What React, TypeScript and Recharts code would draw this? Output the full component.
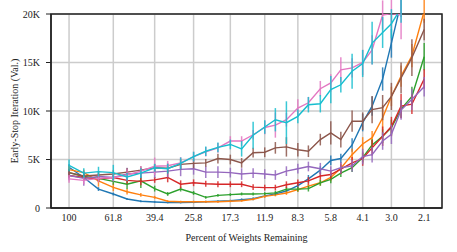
import { CartesianGrid, ErrorBar, Label, Line, LineChart, ReferenceArea, XAxis, YAxis } from "recharts";

// percent of weights remaining at each pruning round
const PERCENT = [
  100, 85.2, 72.6, 61.8, 53.2, 45.8, 39.4, 34.2, 29.7, 25.8, 22.6, 19.8, 17.3, 15.3, 13.5, 11.9,
  10.6, 9.4, 8.3, 7.4, 6.5, 5.8, 5.2, 4.6, 4.1, 3.7, 3.3, 3.0, 2.7, 2.4, 2.1,
];
const X_TICKS = [100, 61.8, 39.4, 25.8, 17.3, 11.9, 8.3, 5.8, 4.1, 3.0, 2.1];
const X_LABELS = ["100", "61.8", "39.4", "25.8", "17.3", "11.9", "8.3", "5.8", "4.1", "3.0", "2.1"];
const X_DOMAIN = [1.73, 121.7];
const Y_TICKS = [0, 5000, 10000, 15000, 20000];
const Y_LABELS = ["0", "5K", "10K", "15K", "20K"];

const BLUE = [4200, 3150, 1950, 1440, 930, 700, 620, 560, 550, 600, 650, 700, 750, 850, 950, 1250, 1450, 1750, 2300, 3000, 3900, 4900, 5100, 6500, 8800, 10500, 13300, 17000, 21200, 25000, 28000];
const BLUE_ERR = [300, 250, 200, 150, 100, 100, 80, 80, 80, 100, 100, 100, 100, 150, 150, 150, 200, 200, 300, 400, 400, 500, 500, 700, 900, 1000, 1200, 1500, 1500, 1500, 1500];
const ORANGE = [3950, 3650, 2800, 2130, 1680, 1350, 1100, 700, 650, 650, 650, 650, 700, 750, 900, 1200, 1350, 1550, 1900, 2250, 2600, 3150, 4100, 5500, 6600, 7250, 9300, 11500, 13600, 15700, 20300];
const ORANGE_ERR = [400, 300, 600, 400, 300, 200, 150, 100, 100, 100, 100, 100, 100, 100, 100, 150, 150, 200, 250, 250, 300, 400, 500, 600, 700, 700, 1300, 1000, 1100, 1200, 1200];
const GREEN = [3650, 3250, 3050, 2750, 2450, 2800, 2000, 1450, 1950, 1550, 1100, 1300, 1380, 1450, 1450, 1480, 1560, 1950, 1950, 2000, 2600, 2950, 3600, 4150, 5200, 6500, 7400, 8300, 10200, 11500, 15600];
const GREEN_ERR = [300, 300, 300, 350, 500, 750, 300, 200, 250, 200, 150, 150, 150, 150, 150, 150, 200, 250, 250, 300, 300, 400, 400, 450, 500, 600, 700, 800, 900, 1000, 1400];
const RED = [3350, 3150, 3000, 3150, 2850, 2750, 2900, 3150, 2450, 2600, 2500, 2450, 2450, 2450, 2150, 2100, 2100, 2400, 2600, 2800, 3300, 3450, 4000, 4650, 5100, 6200, 7400, 8400, 10500, 10700, 13300];
const RED_ERR = [300, 300, 300, 300, 350, 400, 300, 500, 400, 350, 300, 300, 300, 300, 300, 300, 300, 350, 350, 400, 400, 450, 500, 600, 750, 800, 1000, 1000, 1250, 1000, 1000];
const PURPLE = [3350, 3050, 3250, 3150, 3500, 3600, 3700, 3800, 3980, 4040, 3700, 3700, 3650, 3500, 3600, 3500, 3400, 3800, 4050, 4280, 4050, 3800, 4150, 4350, 5300, 5500, 6900, 7600, 10100, 11200, 12500];
const PURPLE_ERR = [500, 750, 400, 400, 650, 500, 600, 650, 700, 600, 600, 600, 500, 600, 500, 500, 500, 500, 500, 500, 600, 500, 600, 600, 800, 800, 900, 1000, 1000, 1100, 1000];
const BROWN = [3650, 3300, 3400, 3500, 3700, 3900, 4150, 4100, 4500, 4600, 4650, 5100, 5000, 4650, 5700, 5750, 6200, 6300, 6000, 5850, 7050, 7750, 7050, 8950, 8950, 10150, 10350, 11500, 13400, 15500, 18400];
const BROWN_ERR = [400, 400, 400, 400, 400, 400, 400, 500, 500, 500, 400, 500, 500, 500, 500, 500, 600, 1000, 700, 600, 600, 1200, 800, 1100, 900, 1400, 1300, 1400, 1600, 1900, 1100];
const PINK = [3000, 2850, 3050, 3150, 3400, 3800, 4300, 4350, 4650, 5300, 5800, 6200, 6900, 6900, 7550, 8300, 8550, 9100, 10300, 10850, 12300, 12900, 14250, 14450, 15000, 16300, 19900, 20050, 19900, 24000, 27000];
const PINK_ERR = [400, 400, 400, 400, 600, 500, 900, 500, 600, 500, 500, 500, 500, 500, 500, 700, 1300, 700, 900, 600, 800, 900, 1300, 1000, 1300, 1500, 1500, 1500, 2500, 2000, 2000];
const CYAN = [4400, 3600, 3750, 3650, 3200, 3600, 4150, 4050, 4600, 5300, 5850, 6250, 6550, 6100, 7500, 8350, 9100, 8800, 9450, 10650, 10750, 12200, 12700, 14100, 14900, 17000, 18100, 19000, 20600, 23000, 26000];
const CYAN_ERR = [600, 500, 500, 800, 400, 500, 400, 500, 600, 500, 500, 500, 500, 800, 1400, 700, 1200, 2200, 700, 800, 900, 1400, 800, 1800, 1400, 2200, 1600, 1500, 1500, 1500, 1500];

const SERIES = [
  { key: "blue", color: "#1f77b4", values: BLUE, err: BLUE_ERR },
  { key: "orange", color: "#ff7f0e", values: ORANGE, err: ORANGE_ERR },
  { key: "green", color: "#2ca02c", values: GREEN, err: GREEN_ERR },
  { key: "red", color: "#d62728", values: RED, err: RED_ERR },
  { key: "purple", color: "#9467bd", values: PURPLE, err: PURPLE_ERR },
  { key: "brown", color: "#8c564b", values: BROWN, err: BROWN_ERR },
  { key: "pink", color: "#e377c2", values: PINK, err: PINK_ERR },
  { key: "cyan", color: "#17becf", values: CYAN, err: CYAN_ERR },
];

const data = PERCENT.map((p, i) => {
  const row: any = { pct: p };
  SERIES.forEach((s) => {
    row[s.key] = s.values[i];
    row[s.key + "Err"] = s.err[i];
  });
  return row;
});

const FONT = '"Liberation Serif", "DejaVu Serif", serif';
const INK = "#222";

const XTick = ({ x, y, payload }: any) => (
  <text x={x} y={y + 13} textAnchor="middle" fontSize={10} fontFamily={FONT} fill={INK}>
    {X_LABELS[X_TICKS.indexOf(payload.value)] ?? String(payload.value)}
  </text>
);

const YTick = ({ x, y, payload }: any) => (
  <text x={x} y={y + 3.5} textAnchor="end" fontSize={10} fontFamily={FONT} fill={INK}>
    {Y_LABELS[Y_TICKS.indexOf(payload.value)] ?? String(payload.value)}
  </text>
);

export default function App() {
  return (
    <div
      style={{
        position: "absolute",
        left: 0,
        top: 0,
        width: 457,
        height: 252,
        background: "#fff",
        fontFamily: FONT,
      }}
    >
      <LineChart width={457} height={252} data={data} margin={{ top: 14, right: 15, bottom: 0, left: 0 }}>
        <CartesianGrid stroke="#cccccc" strokeWidth={1.5} />
        <XAxis
          dataKey="pct"
          type="number"
          scale="log"
          domain={X_DOMAIN}
          reversed
          ticks={X_TICKS}
          interval={0}
          tickLine={false}
          tickSize={0}
          tickMargin={0}
          axisLine={{ stroke: INK, strokeWidth: 1.3 }}
          tick={<XTick />}
          height={44}
          label={{
            value: "Percent of Weights Remaining",
            position: "insideBottom",
            offset: 11,
            style: { fill: INK, fontSize: 10, fontFamily: FONT },
          }}
        />
        <YAxis
          domain={[0, 20000]}
          ticks={Y_TICKS}
          allowDataOverflow
          width={51}
          tickSize={5}
          tickMargin={6}
          tickLine={{ stroke: INK }}
          axisLine={{ stroke: INK, strokeWidth: 1.3 }}
          tick={<YTick />}
        >
          <Label
            content={() => (
              <text
                x={14}
                y={111}
                transform="rotate(-90, 14, 111)"
                textAnchor="middle"
                dominantBaseline="central"
                fontSize={10}
                fontFamily={FONT}
                fill={INK}
              >
                Early-Stop Iteration (Val.)
              </text>
            )}
          />
        </YAxis>
        {SERIES.map((s) => (
          <Line
            key={s.key}
            type="linear"
            dataKey={s.key}
            stroke={s.color}
            strokeWidth={1.4}
            dot={false}
            isAnimationActive={false}
          >
            <ErrorBar dataKey={s.key + "Err"} direction="y" width={0} stroke={s.color} strokeWidth={1.5} strokeOpacity={0.85} />
          </Line>
        ))}
        {/* plot frame */}
        <ReferenceArea
          x1={X_DOMAIN[0]}
          x2={X_DOMAIN[1]}
          y1={0}
          y2={20000}
          fill="none"
          fillOpacity={0}
          stroke={INK}
          strokeWidth={1.5}
          strokeOpacity={1}
          ifOverflow="visible"
        />
      </LineChart>
    </div>
  );
}
